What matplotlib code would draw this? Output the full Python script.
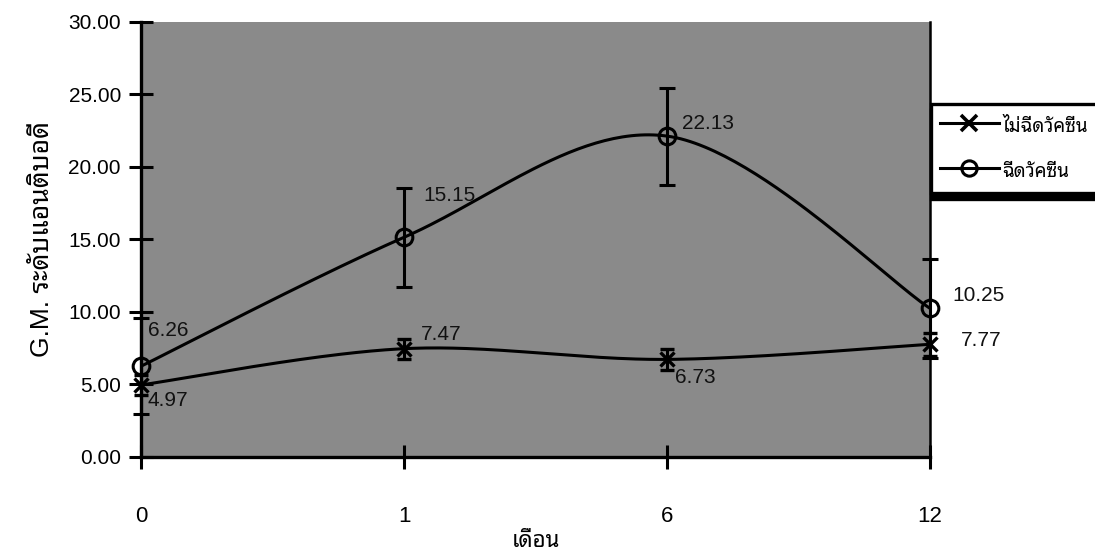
import numpy as np
import matplotlib
matplotlib.use("Agg")
import matplotlib.pyplot as plt
from matplotlib.lines import Line2D

plt.rcParams['font.family'] = ['Liberation Sans', 'Noto Sans Thai Looped']

months = ['0', '1', '6', '12']
no_vac = [4.97, 7.47, 6.73, 7.77]
no_vac_err = [0.7, 0.7, 0.7, 0.8]
vac = [6.26, 15.15, 22.13, 10.25]
vac_err = [3.3, 3.4, 3.35, 3.4]
series_names = ['ไม่ฉีดวัคซีน', 'ฉีดวัคซีน']


def smooth_line(xs, ys, n=60):
    # Excel-style smoothed line: cubic bezier through the points (catmull-rom, 1/6)
    p = np.column_stack([xs, ys]).astype(float)
    p = np.vstack([p[:1], p, p[-1:]])
    out = []
    t = np.linspace(0, 1, n)[:, None]
    for i in range(1, len(p) - 2):
        p0, p1, p2, p3 = p[i - 1], p[i], p[i + 1], p[i + 2]
        b1 = p1 + (p2 - p0) / 6
        b2 = p2 - (p3 - p1) / 6
        seg = ((1 - t) ** 3) * p1 + 3 * ((1 - t) ** 2) * t * b1 + 3 * (1 - t) * t ** 2 * b2 + t ** 3 * p2
        out.append(seg)
    out = np.vstack(out)
    return out[:, 0], out[:, 1]


fig = plt.figure(figsize=(10.95, 5.55), dpi=100)
ax = fig.add_axes([0.1288, 0.1766, 0.7205, 0.7838])
ax.set_facecolor('#8a8a8a')

x = np.arange(len(months))

# smoothed lines
sx, sy = smooth_line(x, no_vac)
ax.plot(sx, sy, color='black', lw=2.2, zorder=3)
sx, sy = smooth_line(x, vac)
ax.plot(sx, sy, color='black', lw=2.2, zorder=3)

# markers + error bars
ax.errorbar(x, no_vac, yerr=no_vac_err, fmt='x', color='black', ms=10, mew=2.4,
            elinewidth=2.2, capsize=5, capthick=2.4, zorder=4, clip_on=False)
ax.errorbar(x, vac, yerr=vac_err, fmt='o', color='black', mfc='none', ms=12, mew=2.2,
            elinewidth=2.2, capsize=6, capthick=2.2, zorder=4, clip_on=False)

# data labels
nv_off = [(5, -11), (12, 10), (6, -13), (22, 3)]
v_off = [(5, 26), (14, 30), (11, 9), (16, 9)]
for i in range(len(months)):
    ax.annotate(f'{no_vac[i]:.2f}', (x[i], no_vac[i]), xytext=nv_off[i], textcoords='offset points',
                ha='left', va='center', fontsize=15, color='#111111', annotation_clip=False, zorder=5)
    ax.annotate(f'{vac[i]:.2f}', (x[i], vac[i]), xytext=v_off[i], textcoords='offset points',
                ha='left', va='center', fontsize=15, color='#111111', annotation_clip=False, zorder=5)

ax.set_xlim(0, 3)
ax.set_ylim(0, 30)
ax.set_xticks(x)
ax.set_xticklabels(months)
ax.set_yticks(np.arange(0, 31, 5))
ax.set_yticklabels([f'{v:.2f}' for v in np.arange(0, 31, 5)])
ax.tick_params(axis='both', direction='inout', length=17, width=2.2, labelsize=15, colors='black')
ax.tick_params(axis='x', pad=27, labelsize=16)
ax.tick_params(axis='y', pad=6)

for side in ['left', 'bottom']:
    ax.spines[side].set_linewidth(2.4)
ax.spines['right'].set_linewidth(1.8)
ax.spines['top'].set_visible(False)

ax.set_xlabel('เดือน', fontsize=16, labelpad=3)
ax.set_ylabel('G.M. ระดับแอนติบอดี', fontsize=19, labelpad=10)

handles = [
    Line2D([], [], color='black', lw=2.2, marker='x', ms=11, mew=2.6),
    Line2D([], [], color='black', lw=2.2, marker='o', mfc='none', ms=11, mew=2.2),
]
leg = fig.legend(handles, series_names, loc='upper left', bbox_to_anchor=(931 / 1095, 1 - 104 / 555),
                 borderaxespad=0, frameon=True, fancybox=False, fontsize=13.5, handlelength=3.1,
                 handleheight=1.7, handletextpad=0.2, labelspacing=1.05, borderpad=0.5,
                 shadow={'ox': 0, 'oy': -4, 'color': 'black', 'alpha': 1})
leg.get_frame().set_edgecolor('black')
leg.get_frame().set_linewidth(2.4)
leg.get_frame().set_facecolor('white')
for t in leg.get_texts():
    t.set_fontweight('bold')

fig.savefig('out.png', dpi=100)
